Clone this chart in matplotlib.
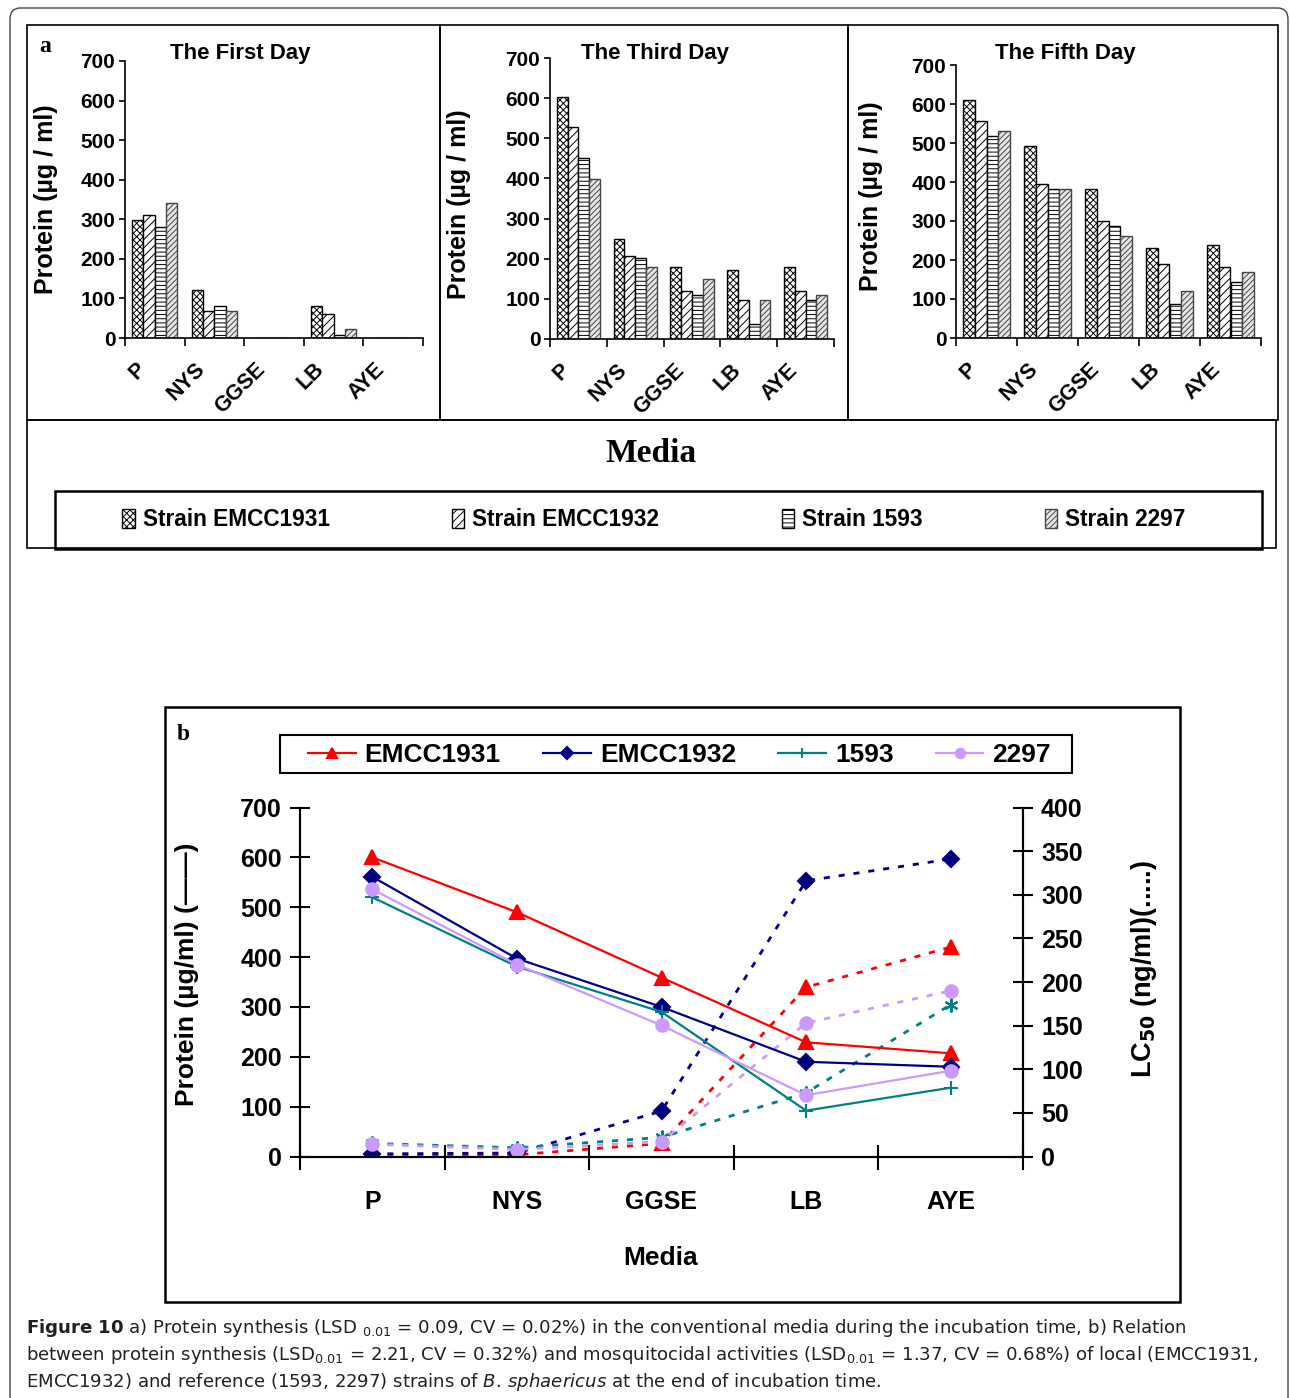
import matplotlib
matplotlib.use("Agg")
import matplotlib.pyplot as plt
from matplotlib.patches import Rectangle, FancyBboxPatch

SANS = "Liberation Sans"
SERIF = "Liberation Serif"
plt.rcParams["font.family"] = [SANS, "DejaVu Sans"]
plt.rcParams["mathtext.fontset"] = "dejavusans"
plt.rcParams["hatch.linewidth"] = 0.7

# ---- data ----
media = ["P", "NYS", "GGSE", "LB", "AYE"]
strains = ["Strain EMCC1931", "Strain EMCC1932", "Strain 1593", "Strain 2297"]

# panel a: protein (ug/ml) per medium
day1_emcc1931 = [299, 122, 0, 82, 0]
day1_emcc1932 = [311, 69, 0, 61, 0]
day1_1593 = [281, 82, 0, 7, 0]
day1_2297 = [341, 69, 0, 22, 0]

day3_emcc1931 = [602, 249, 180, 173, 180]
day3_emcc1932 = [527, 208, 119, 98, 120]
day3_1593 = [451, 201, 110, 37, 97]
day3_2297 = [399, 179, 150, 98, 110]

day5_emcc1931 = [611, 492, 381, 231, 238]
day5_emcc1932 = [557, 394, 301, 190, 181]
day5_1593 = [518, 381, 287, 88, 143]
day5_2297 = [530, 381, 261, 120, 169]

# panel b: protein (solid, left) and LC50 (dotted, right) at end of incubation
b_labels = ["EMCC1931", "EMCC1932", "1593", "2297"]
protein_emcc1931 = [600, 490, 359, 229, 207]
protein_emcc1932 = [561, 397, 300, 190, 180]
protein_1593 = [520, 381, 290, 92, 138]
protein_2297 = [536, 385, 263, 123, 172]
lc50_emcc1931 = [0, 2, 15, 194, 240]
lc50_emcc1932 = [3, 4, 52, 316, 341]
lc50_1593 = [15, 10, 22, 73, 174]
lc50_2297 = [14, 8, 17, 153, 190]

W, H = 1290, 1398
fig = plt.figure(figsize=(W / 100, H / 100), dpi=100)


def fr(x0, y0, x1, y1):
    return [x0 / W, 1 - y1 / H, (x1 - x0) / W, (y1 - y0) / H]


def box(x0, y0, x1, y1, lw=1.2, color="black"):
    fig.add_artist(Rectangle((x0 / W, 1 - y1 / H), (x1 - x0) / W, (y1 - y0) / H,
                             transform=fig.transFigure, fill=False, lw=lw,
                             edgecolor=color))


# page frame
fig.add_artist(FancyBboxPatch((10 / W, 1 - 1420 / H), 1278 / W, 1412 / H,
                              boxstyle="round,pad=0,rounding_size=0.008",
                              transform=fig.transFigure, fill=False,
                              lw=1.0, edgecolor="#444444"))

# panel a frames
box(27, 25, 440, 420)
box(440, 25, 848, 420)
box(848, 25, 1278, 420)
box(27, 420, 1276, 548)
box(55, 491, 1262, 549, lw=1.8)

bar_styles = [
    dict(facecolor="white", hatch="xxxxx", edgecolor="black"),
    dict(facecolor="white", hatch="////", edgecolor="black"),
    dict(facecolor="white", hatch="----", edgecolor="black"),
    dict(facecolor="#e6e6e6", hatch="//////", edgecolor="#444444"),
]

days = [
    ("The First Day", fr(125, 61, 423, 338), [day1_emcc1931, day1_emcc1932, day1_1593, day1_2297], 240, (-0.225, 0.5)),
    ("The Third Day", fr(550, 58, 834, 339), [day3_emcc1931, day3_emcc1932, day3_1593, day3_2297], 655, (-0.278, 0.48)),
    ("The Fifth Day", fr(956, 65, 1261, 338), [day5_emcc1931, day5_emcc1932, day5_1593, day5_2297], 1065, (-0.239, 0.52)),
]

x = list(range(len(media)))
bw = 0.19
handles = []
for title, rect, series, tx, lab in days:
    ax = fig.add_axes(rect)
    hs = []
    for j, vals in enumerate(series):
        pos = [i + (j - 1.5) * bw for i in x]
        b = ax.bar(pos, vals, width=bw, lw=1.0, **bar_styles[j])
        hs.append(b)
    if not handles:
        handles = hs
    ax.set_xlim(-0.5, 4.5)
    ax.set_ylim(0, 700)
    ax.set_yticks(range(0, 701, 100))
    # rotated labels sit a little left of the group centres
    ax.set_xticks([i - 0.33 for i in x])
    ax.set_xticklabels(media, rotation=45, ha="right", va="top",
                       rotation_mode="anchor", fontsize=15.5, fontweight="bold")
    ax.set_xticks([i - 0.5 for i in range(len(media) + 1)], minor=True)
    ax.tick_params(axis="x", which="major", length=0, pad=15)
    ax.tick_params(axis="x", which="minor", length=6, width=1.2, direction="out")
    ax.tick_params(axis="y", length=4, width=1.2, direction="out", pad=3)
    for t in ax.get_yticklabels():
        t.set_fontsize(15)
        t.set_fontweight("bold")
    for s in ["top", "right"]:
        ax.spines[s].set_visible(False)
    for s in ["left", "bottom"]:
        ax.spines[s].set_linewidth(1.2)
    ax.set_ylabel("Protein (µg / ml)", fontsize=18, fontweight="bold")
    ax.yaxis.set_label_coords(*lab)
    fig.text(tx / W, 1 - 54 / H, title, ha="center", va="center",
             fontsize=16, fontweight="bold")

fig.text(45 / W, 1 - 47 / H, "a", ha="center", va="center", family=SERIF,
         fontsize=17, fontweight="bold")
fig.text(651 / W, 1 - 453 / H, "Media", ha="center", va="center", family=SERIF,
         fontsize=24, fontweight="bold")
fig.legend([h.patches[0] for h in handles], strains, loc="center",
           bbox_to_anchor=(654 / W, 1 - 520 / H), ncol=4, frameon=False,
           prop={"weight": "bold", "size": 16.3},
           handlelength=0.55, handleheight=0.9, handletextpad=0.35,
           columnspacing=5.4)

# ---- panel b ----
box(165, 707, 1180, 1302, lw=1.8)
fig.text(183 / W, 1 - 735 / H, "b", ha="center", va="center", family=SERIF,
         fontsize=17, fontweight="bold")

axb = fig.add_axes(fr(300, 807.5, 1023, 1156.5))
ax2 = axb.twinx()
colors = ["#FF0000", "#000080", "#008080", "#CC99FF"]
markers = ["^", "D", "+", "o"]
msizes = [10, 8, 10, 9]
protein = [protein_emcc1931, protein_emcc1932, protein_1593, protein_2297]
lc50 = [lc50_emcc1931, lc50_emcc1932, lc50_1593, lc50_2297]
lc_markers = ["^", "D", (6, 2, 0), "o"]
lines = []
for k in range(4):
    ax2.plot(x, lc50[k], color=colors[k], lw=2, ls=(0, (2.2, 3.2)),
             marker=lc_markers[k], ms=msizes[k], mew=1.5, zorder=2)
for k in range(4):
    ln, = axb.plot(x, protein[k], color=colors[k], lw=1.6, marker=markers[k],
                   ms=msizes[k], mew=1.5, zorder=3)
    lines.append(ln)

axb.set_zorder(ax2.get_zorder() + 1)
axb.patch.set_visible(False)

axb.set_xlim(-0.5, 4.5)
axb.set_ylim(0, 700)
axb.set_yticks(range(0, 701, 100))
ax2.set_ylim(0, 400)
ax2.set_yticks(range(0, 401, 50))
axb.set_xticks(x)
axb.set_xticklabels(media, fontsize=18, fontweight="bold")
axb.set_xticks([i - 0.5 for i in range(len(media) + 1)], minor=True)
axb.tick_params(axis="x", which="major", length=0, pad=24)
axb.tick_params(axis="x", which="minor", length=18, width=1.5, direction="inout")
axb.tick_params(axis="y", length=14, width=1.5, direction="inout", pad=6, labelsize=18)
ax2.tick_params(axis="y", length=14, width=1.5, direction="inout", pad=6, labelsize=18)
for t in axb.get_yticklabels() + ax2.get_yticklabels():
    t.set_fontweight("bold")
for a in (axb, ax2):
    a.spines["top"].set_visible(False)
    for s in ["left", "right", "bottom"]:
        a.spines[s].set_linewidth(1.5)

axb.set_ylabel("Protein (µg/ml) (——)", fontsize=19, fontweight="bold")
axb.yaxis.set_label_coords(-0.14, 0.523)
ax2.set_ylabel(r"LC$_{\mathbf{50}}$ (ng/ml)(.....)", fontsize=19.5,
               fontweight="bold", rotation=90)
ax2.yaxis.set_label_coords(1.147, 0.537)
axb.set_xlabel("Media", fontsize=19, fontweight="bold")
axb.xaxis.set_label_coords((661 - 300) / 723, (1156.5 - 1258) / 349)
axb.xaxis.label.set_va("center")

box(280, 735, 1072, 773, lw=1.5)
axb.legend(lines, b_labels, loc="center", bbox_to_anchor=(679.5 / W, 1 - 755 / H),
           bbox_transform=fig.transFigure, ncol=4, frameon=False,
           prop={"weight": "bold", "size": 19}, handlelength=1.8,
           handletextpad=0.35, columnspacing=1.6, markerscale=0.75)

# ---- caption ----
cap = [
    r"$\mathbf{Figure\ 10}$ a) Protein synthesis (LSD $_{0.01}$ = 0.09, CV = 0.02%) in the conventional media during the incubation time, b) Relation",
    r"between protein synthesis (LSD$_{0.01}$ = 2.21, CV = 0.32%) and mosquitocidal activities (LSD$_{0.01}$ = 1.37, CV = 0.68%) of local (EMCC1931,",
    r"EMCC1932) and reference (1593, 2297) strains of $\mathit{B.\,sphaericus}$ at the end of incubation time.",
]
for i, line in enumerate(cap):
    fig.text(26 / W, 1 - (1328 + 27 * i) / H, line, ha="left", va="center",
             fontsize=13.1, family="DejaVu Sans", color="#231f20")

fig.savefig("out.png", dpi=100)
